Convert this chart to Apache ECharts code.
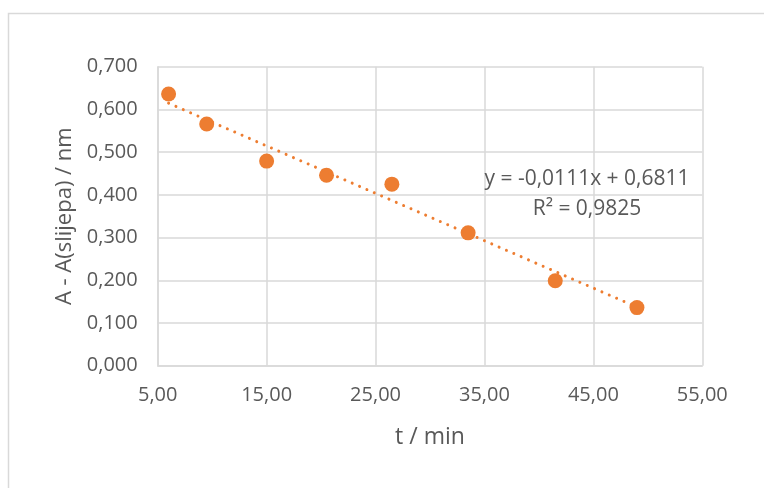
<!DOCTYPE html>
<html>
<head>
<meta charset="utf-8">
<script src="https://cdn.jsdelivr.net/npm/echarts@6/dist/echarts.min.js"></script>
<style>html,body{margin:0;padding:0;background:#fff}#c{width:764px;height:488px}</style>
</head>
<body>
<div id="c"></div>
<script>
// Data
var tValues = [6.0, 9.5, 15.0, 20.5, 26.5, 33.5, 41.5, 49.0];
var aValues = [0.636, 0.566, 0.479, 0.446, 0.425, 0.311, 0.199, 0.136];
// Trendline as given on the chart: y = -0,0111x + 0,6811
var trendSlope = -0.0111;
var trendIntercept = 0.6811;
var equationText = 'y = -0,0111x + 0,6811';
var r2Text = 'R² = 0,9825';
var xAxisName = 't / min';
var yAxisName = 'A - A(slijepa) / nm';

var points = tValues.map(function (t, i) { return [t, aValues[i]]; });
var tMin = Math.min.apply(null, tValues), tMax = Math.max.apply(null, tValues);
var trend = [[tMin, trendSlope * tMin + trendIntercept], [tMax, trendSlope * tMax + trendIntercept]];

var FONT = '"Open Sans", sans-serif';
var GRAY = '#595959';
var chart = echarts.init(document.getElementById('c'), null, {renderer: 'canvas'});
chart.setOption({
  animation: false,
  backgroundColor: '#fff',
  graphic: [{
    type: 'rect', left: 6, top: 11, silent: true, z: -10,
    shape: {width: 820, height: 520},
    style: {fill: 'none', stroke: '#d9d9d9', lineWidth: 1.5}
  }, {
    type: 'text', x: 587, y: 179, z: 10,
    style: {text: equationText, fill: GRAY, font: '21px ' + FONT, textAlign: 'center', textVerticalAlign: 'middle'}
  }, {
    type: 'text', x: 587, y: 209, z: 10,
    style: {text: r2Text, fill: GRAY, font: '21px ' + FONT, textAlign: 'center', textVerticalAlign: 'middle'}
  }],
  grid: {left: 157.7, right: 61.7, top: 66.7, bottom: 122.3, containLabel: false},
  xAxis: {
    type: 'value', min: 5, max: 55, interval: 10,
    name: xAxisName, nameLocation: 'middle', nameGap: 60,
    nameTextStyle: {color: GRAY, fontSize: 23, fontFamily: FONT},
    axisLine: {show: true, lineStyle: {color: '#d9d9d9', width: 1.5}},
    axisTick: {show: false},
    splitLine: {show: true, lineStyle: {color: '#d9d9d9', width: 1.5}},
    axisLabel: {color: GRAY, fontSize: 20, fontFamily: FONT, margin: 20,
      formatter: function (v) { return v.toFixed(2).replace('.', ','); }}
  },
  yAxis: {
    type: 'value', min: 0, max: 0.7, interval: 0.1,
    name: yAxisName, nameLocation: 'middle', nameGap: 80,
    nameTextStyle: {color: GRAY, fontSize: 22, fontFamily: FONT},
    axisLine: {show: true, lineStyle: {color: '#d9d9d9', width: 1.5}},
    axisTick: {show: false},
    splitLine: {show: true, lineStyle: {color: '#d9d9d9', width: 1.5}},
    axisLabel: {color: GRAY, fontSize: 20, fontFamily: FONT, margin: 20,
      formatter: function (v) { return v.toFixed(3).replace('.', ','); }}
  },
  series: [{
    type: 'scatter', data: points, symbol: 'circle', symbolSize: 15,
    itemStyle: {color: '#ED7D31', opacity: 1}, z: 2
  }, {
    type: 'line', data: trend, symbol: 'none', z: 3,
    lineStyle: {color: '#ED7D31', width: 3, type: [0.01, 8], cap: 'round'}
  }]
});
</script>
</body>
</html>
